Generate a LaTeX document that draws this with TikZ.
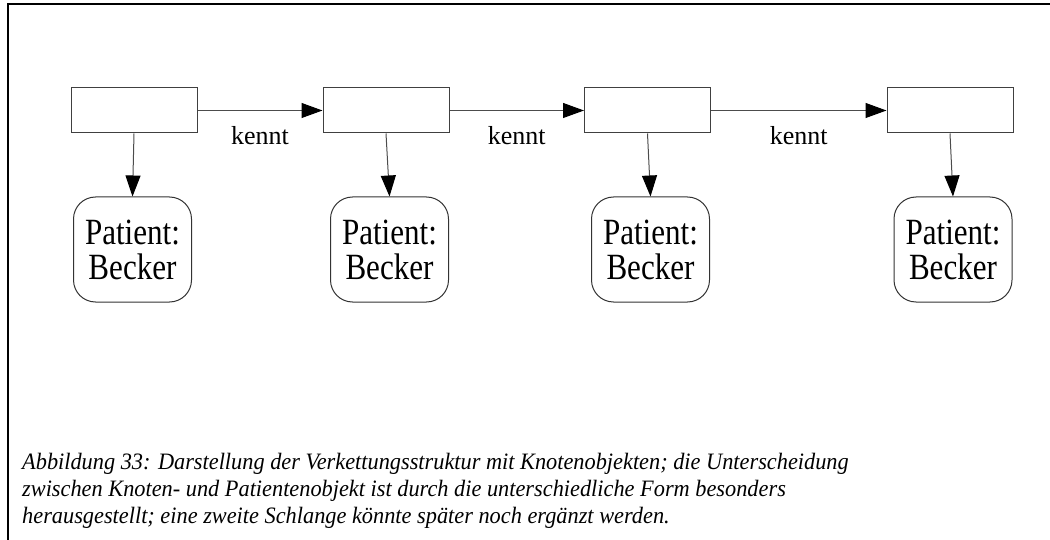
\documentclass[tikz,border=0pt]{standalone}
\usepackage{fontspec}
\setmainfont{Liberation Serif}
\newfontfamily\objfont[FakeStretch=0.84]{Liberation Serif}
\newfontfamily\capfont[FakeStretch=0.95]{Liberation Serif Italic}
\usetikzlibrary{arrows.meta}
\begin{document}
\begin{tikzpicture}[x=1pt,y=-1pt,
  knot/.style={draw=black!75,line width=1pt,rectangle,minimum width=126pt,minimum height=45pt,inner sep=0pt},
  patient/.style={draw=black!80,line width=1pt,rectangle,rounded corners=22pt,minimum width=118pt,minimum height=105pt,inner sep=0pt,align=center,font=\objfont\fontsize{37}{35}\selectfont},
  link/.style={draw=black!70,line width=1pt,-{Triangle[length=21pt,width=15pt,color=black]}},
  lbl/.style={font=\fontsize{26}{30}\selectfont,inner sep=0pt,anchor=base},
  caption/.style={font=\capfont\fontsize{23.5}{27}\selectfont,inner sep=0pt,anchor=base west}
]
\useasboundingbox (0,0) rectangle (1050,540);
% open frame: top and left edges only
\coordinate (fl) at (8,540);
\coordinate (fc) at (8,4);
\coordinate (fr) at (1050,4);
\draw[line width=1.6pt] (fl) -- (fc) -- (fr);

% chain of knot objects
\node[knot] (k1) at (134,110.5) {};
\node[knot] (k2) at (386,110.5) {};
\node[knot] (k3) at (647.5,110.5) {};
\node[knot] (k4) at (950,110.5) {};

% patient objects
\node[patient] (p1) at (132.5,249.5) {Patient:\\Becker};
\node[patient] (p2) at (389.5,249.5) {Patient:\\Becker};
\node[patient] (p3) at (650.5,249.5) {Patient:\\Becker};
\node[patient] (p4) at (953,249.5) {Patient:\\Becker};

% "kennt" links between knots
\draw[link] (k1) -- (k2);
\draw[link] (k2) -- (k3);
\draw[link] (k3) -- (k4);
\path (k1.east) -- (k2.west) node[lbl,pos=0.5,yshift=-34pt] (l1) {kennt};
\path (k2.east) -- (k3.west) node[lbl,pos=0.5,yshift=-34pt] (l2) {kennt};
\path (k3.east) -- (k4.west) node[lbl,pos=0.5,yshift=-34pt] (l3) {kennt};

% references from knots to patients
\draw[link] (k1.south) -- (p1.north);
\draw[link] (k2.south) -- (p2.north);
\draw[link] (k3.south) -- (p3.north);
\draw[link] (k4.south) -- (p4.north);

% caption
\node[caption] (c1) at (22,469) {Abbildung 33: Darstellung der Verkettungsstruktur mit Knotenobjekten; die Unterscheidung};
\node[caption] (c2) at (22,496) {zwischen Knoten- und Patientenobjekt ist durch die unterschiedliche Form besonders};
\node[caption] (c3) at (22,523) {herausgestellt; eine zweite Schlange könnte später noch ergänzt werden.};
\end{tikzpicture}
\end{document}
